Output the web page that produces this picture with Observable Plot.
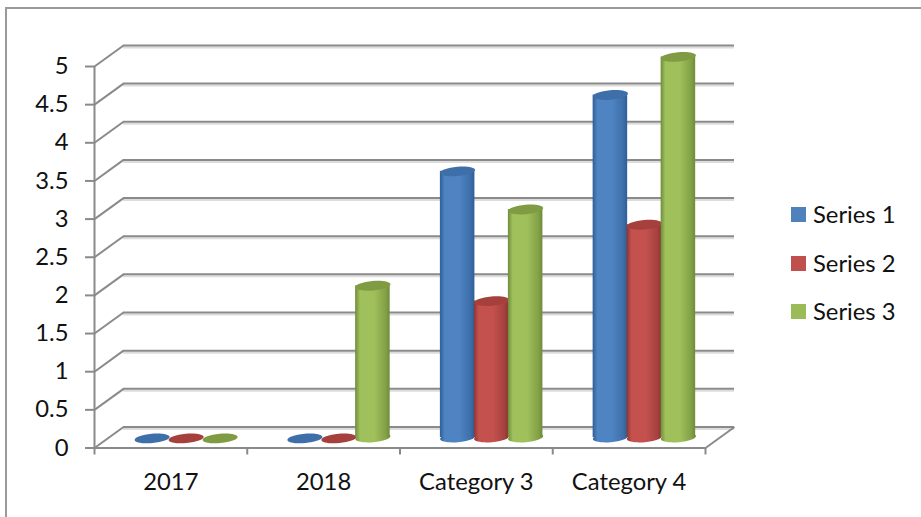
<!DOCTYPE html>
<html>
<head>
<meta charset="utf-8">
<script src="https://cdn.jsdelivr.net/npm/d3@7"></script>
<script src="https://cdn.jsdelivr.net/npm/@observablehq/plot@0.6"></script>
<style>
  html, body { margin: 0; padding: 0; background: #fff; }
  #chart { position: relative; width: 921px; height: 517px; overflow: hidden; font-family: Lato, sans-serif; color: #111; }
  #edge { position: absolute; left: 5px; top: 7px; width: 930px; height: 530px; border: 2px solid #9a9a9a; box-sizing: border-box; }
  #legend { position: absolute; left: 791px; top: 199px; }
  .key { position: absolute; left: 0; white-space: nowrap; font-size: 23.8px; line-height: 30px; height: 32px; padding-left: 22px; }
  .key i { position: absolute; left: 0; top: 8px; width: 15px; height: 15px; }
  svg { position: absolute; left: 0; top: 0; }
</style>
</head>
<body>
<div id="chart"><div id="edge"></div><div id="legend"></div></div>
<script>
const categories = ["2017", "2018", "Category 3", "Category 4"];
const seriesNames = ["Series 1", "Series 2", "Series 3"];
const series1 = [0, 0, 3.5, 4.5];
const series2 = [0, 0, 1.8, 2.8];
const series3 = [0, 2, 3, 5];
const yTicks = [0, 0.5, 1, 1.5, 2, 2.5, 3, 3.5, 4, 4.5, 5];
const xEdges = [0, 1, 2, 3, 4];
const xCentres = [0.5, 1.5, 2.5, 3.5];

const swatch = ["#4f81bd", "#c0504d", "#9bbb59"];
const capFill = ["#3f6fa8", "#a5403d", "#809c42"];
const shades = [
  ["#2f5e96", "#4f84c2", "#3d6fab"],
  ["#8a3533", "#c4514e", "#a6423f"],
  ["#6f8c3a", "#a0c05c", "#83a146"]
];

// Oblique depth of the floor, in data units of the x and y scales.
const depthX = 0.19;
const depthY = 0.2756;
const seriesStep = 0.2226;
const halfWidth = 0.113;

const rows = [series1, series2, series3].map((values, s) =>
  values.map((value, c) => ({
    s, value,
    cx: c + 0.505 + depthX / 2 + (s - 1) * seriesStep,
    base: depthY / 2,
    top: value + depthY / 2 - 0.012
  }))
);

// A slightly tilted ellipse used as the cap and foot of each cylinder.
const ellipse = {
  draw(ctx) {
    const rx = 17.6, ry = 4.7, k = 0.5523, a = -5 * Math.PI / 180;
    const P = (x, y) => [x * Math.cos(a) - y * Math.sin(a), x * Math.sin(a) + y * Math.cos(a)];
    const curve = (p, q, r) => ctx.bezierCurveTo(...P(...p), ...P(...q), ...P(...r));
    ctx.moveTo(...P(rx, 0));
    curve([rx, k * ry], [k * rx, ry], [0, ry]);
    curve([-k * rx, ry], [-rx, k * ry], [-rx, 0]);
    curve([-rx, -k * ry], [-k * rx, -ry], [0, -ry]);
    curve([k * rx, -ry], [rx, -k * ry], [rx, 0]);
    ctx.closePath();
  }
};

function gradients() {
  const defs = d3.create("svg:defs");
  shades.forEach(([edge, mid, right], s) => {
    const g = defs.append("linearGradient").attr("id", "cyl" + s);
    [[0, edge], [0.14, mid], [0.55, mid], [0.88, right], [1, edge]].forEach(([o, c]) =>
      g.append("stop").attr("offset", o).attr("stop-color", c));
  });
  return defs.node();
}

const wall = { stroke: "#8a8a8a", strokeWidth: 2 };

const cylinders = rows.flatMap((data, s) => {
  const solid = data.filter((d) => d.value > 0);
  const fill = `url(#cyl${s})`;
  return [
    Plot.dot(solid, { x: "cx", y: "base", symbol: ellipse, fill }),
    Plot.rect(solid, {
      x1: (d) => d.cx - halfWidth,
      x2: (d) => d.cx + halfWidth,
      y1: "base",
      y2: "top",
      fill
    }),
    Plot.dot(data, { x: "cx", y: "top", symbol: ellipse, fill: capFill[s] })
  ];
});

const plot = Plot.plot({
  width: 921,
  height: 517,
  marginLeft: 94,
  marginRight: 216,
  marginTop: 66,
  marginBottom: 69.5,
  style: { background: "transparent", fontFamily: "Lato, sans-serif", color: "#111", overflow: "visible" },
  x: { type: "linear", domain: [0, 4] },
  y: { type: "linear", domain: [0, 5] },
  marks: [
    gradients,
    // Soft shadow below the back-wall lines
    Plot.ruleY(yTicks, { y: (v) => v + depthY, x1: depthX, x2: 4 + depthX, stroke: "#dcdcdc", strokeWidth: 2, dy: 2 }),
    // Back wall
    Plot.ruleY(yTicks, { y: (v) => v + depthY, x1: depthX, x2: 4 + depthX, ...wall }),
    // Side wall diagonals
    Plot.link(yTicks, { x1: 0, y1: (v) => v, x2: depthX, y2: (v) => v + depthY, ...wall }),
    // Floor: right-hand edge and front edge
    Plot.link([0], { x1: 4, y1: 0, x2: 4 + depthX, y2: depthY, ...wall }),
    Plot.ruleY([0], { x1: 0, x2: 4, ...wall }),
    Plot.ruleX([0], { y1: 0, y2: 5, ...wall }),
    // Axes
    Plot.axisY({
      ticks: yTicks, tickFormat: String, tickSize: 9, tickPadding: 17, label: null,
      stroke: "#8a8a8a", strokeWidth: 2, fill: "#111", fontSize: 23.8
    }),
    Plot.axisX({
      ticks: xEdges, tickFormat: () => "", tickSize: 7, label: null,
      stroke: "#8a8a8a", strokeWidth: 2
    }),
    Plot.axisX({
      ticks: xCentres, tickFormat: (v) => categories[Math.floor(v)], tickSize: 0, tickPadding: 25, label: null,
      fill: "#111", fontSize: 23.8
    }),
    ...cylinders
  ]
});

const chart = document.getElementById("chart");
chart.insertBefore(plot, chart.firstChild);

const legend = d3.select("#legend");
seriesNames.forEach((name, i) => {
  const key = legend.append("div").attr("class", "key").style("top", `${i * 48.5}px`);
  key.append("i").style("background", swatch[i]);
  key.append("span").text(name);
});
</script>
</body>
</html>
